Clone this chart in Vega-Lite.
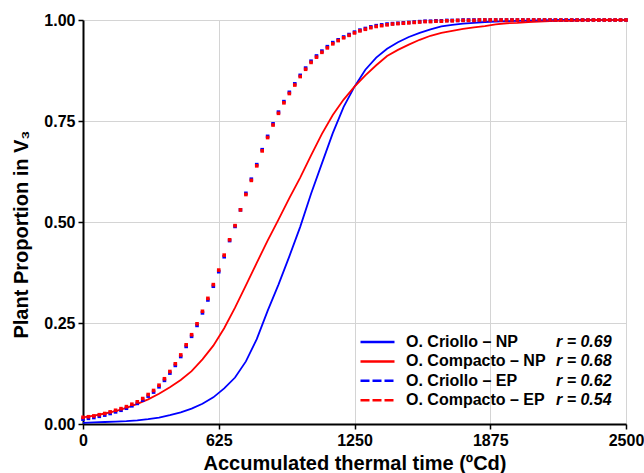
{
  "$schema": "https://vega.github.io/schema/vega-lite/v6.json",
  "width": 543,
  "height": 404,
  "autosize": {"type": "none"},
  "padding": {"left": 83, "top": 20, "right": 18, "bottom": 49},
  "background": "white",
  "config": {
    "view": {"stroke": null},
    "font": "Liberation Sans",
    "axis": {
      "grid": true,
      "domainColor": "#000000", "domainWidth": 2,
      "tickColor": "#000000", "tickWidth": 1.5, "tickSize": 5,
      "labelFont": "Liberation Sans", "labelFontWeight": "bold", "labelFontSize": 16, "labelColor": "#000000",
      "titleFont": "Liberation Sans", "titleFontWeight": "bold", "titleFontSize": 20, "titleColor": "#000000",
      "gridColor": "#d4d4d4", "gridWidth": 1
    },
    "legend": {
      "labelFont": "Liberation Sans", "labelFontWeight": "bold", "labelFontSize": 16, "labelColor": "#000000",
      "padding": 0, "rowPadding": 1.4
    }
  },
  "datasets": {
    "series": [
      {"s": "CN", "name": "O. Criollo – NP", "r": "r = 0.69"},
      {"s": "KN", "name": "O. Compacto – NP", "r": "r = 0.68"},
      {"s": "CE", "name": "O. Criollo – EP", "r": "r = 0.62"},
      {"s": "KE", "name": "O. Compacto – EP", "r": "r = 0.54"}
    ],
    "curves": [
      {"s":"CN","x":0,"y":0.003},{"s":"CN","x":50,"y":0.004},{"s":"CN","x":100,"y":0.005},{"s":"CN","x":150,"y":0.006},{"s":"CN","x":200,"y":0.007},{"s":"CN","x":250,"y":0.009},{"s":"CN","x":300,"y":0.012},{"s":"CN","x":350,"y":0.016},{"s":"CN","x":400,"y":0.022},{"s":"CN","x":450,"y":0.029},{"s":"CN","x":500,"y":0.038},{"s":"CN","x":550,"y":0.05},{"s":"CN","x":600,"y":0.066},{"s":"CN","x":650,"y":0.088},{"s":"CN","x":700,"y":0.115},{"s":"CN","x":750,"y":0.155},{"s":"CN","x":800,"y":0.21},{"s":"CN","x":850,"y":0.28},{"s":"CN","x":900,"y":0.345},{"s":"CN","x":950,"y":0.415},{"s":"CN","x":1000,"y":0.488},{"s":"CN","x":1050,"y":0.57},{"s":"CN","x":1100,"y":0.645},{"s":"CN","x":1150,"y":0.72},{"s":"CN","x":1200,"y":0.785},{"s":"CN","x":1250,"y":0.835},{"s":"CN","x":1300,"y":0.877},{"s":"CN","x":1350,"y":0.907},{"s":"CN","x":1400,"y":0.929},{"s":"CN","x":1450,"y":0.945},{"s":"CN","x":1500,"y":0.958},{"s":"CN","x":1550,"y":0.968},{"s":"CN","x":1600,"y":0.977},{"s":"CN","x":1650,"y":0.984},{"s":"CN","x":1700,"y":0.988},{"s":"CN","x":1750,"y":0.991},{"s":"CN","x":1800,"y":0.993},{"s":"CN","x":1850,"y":0.995},{"s":"CN","x":1900,"y":0.996},{"s":"CN","x":1950,"y":0.997},{"s":"CN","x":2000,"y":0.998},{"s":"CN","x":2100,"y":0.999},{"s":"CN","x":2200,"y":1.0},{"s":"CN","x":2300,"y":1.0},{"s":"CN","x":2400,"y":1.0},{"s":"CN","x":2500,"y":1.0},
      {"s":"KN","x":0,"y":0.0165},{"s":"KN","x":50,"y":0.021},{"s":"KN","x":100,"y":0.026},{"s":"KN","x":150,"y":0.032},{"s":"KN","x":200,"y":0.04},{"s":"KN","x":250,"y":0.05},{"s":"KN","x":300,"y":0.061},{"s":"KN","x":350,"y":0.075},{"s":"KN","x":400,"y":0.091},{"s":"KN","x":450,"y":0.109},{"s":"KN","x":500,"y":0.131},{"s":"KN","x":550,"y":0.16},{"s":"KN","x":600,"y":0.194},{"s":"KN","x":650,"y":0.237},{"s":"KN","x":700,"y":0.288},{"s":"KN","x":750,"y":0.343},{"s":"KN","x":800,"y":0.399},{"s":"KN","x":850,"y":0.454},{"s":"KN","x":900,"y":0.506},{"s":"KN","x":950,"y":0.559},{"s":"KN","x":1000,"y":0.61},{"s":"KN","x":1050,"y":0.665},{"s":"KN","x":1100,"y":0.718},{"s":"KN","x":1150,"y":0.765},{"s":"KN","x":1200,"y":0.803},{"s":"KN","x":1250,"y":0.835},{"s":"KN","x":1300,"y":0.863},{"s":"KN","x":1350,"y":0.888},{"s":"KN","x":1400,"y":0.911},{"s":"KN","x":1450,"y":0.926},{"s":"KN","x":1500,"y":0.939},{"s":"KN","x":1550,"y":0.951},{"s":"KN","x":1600,"y":0.961},{"s":"KN","x":1650,"y":0.968},{"s":"KN","x":1700,"y":0.973},{"s":"KN","x":1750,"y":0.978},{"s":"KN","x":1800,"y":0.982},{"s":"KN","x":1850,"y":0.985},{"s":"KN","x":1900,"y":0.989},{"s":"KN","x":1950,"y":0.992},{"s":"KN","x":2000,"y":0.993},{"s":"KN","x":2050,"y":0.995},{"s":"KN","x":2100,"y":0.996},{"s":"KN","x":2150,"y":0.997},{"s":"KN","x":2200,"y":0.998},{"s":"KN","x":2250,"y":0.998},{"s":"KN","x":2300,"y":0.999},{"s":"KN","x":2350,"y":1.0},{"s":"KN","x":2400,"y":1.0},{"s":"KN","x":2450,"y":1.0},{"s":"KN","x":2500,"y":1.0},
      {"s":"CE","x":0,"y":0.012},{"s":"CE","x":25,"y":0.014},{"s":"CE","x":50,"y":0.016},{"s":"CE","x":75,"y":0.019},{"s":"CE","x":100,"y":0.022},{"s":"CE","x":125,"y":0.026},{"s":"CE","x":150,"y":0.03},{"s":"CE","x":175,"y":0.034},{"s":"CE","x":200,"y":0.039},{"s":"CE","x":225,"y":0.045},{"s":"CE","x":250,"y":0.051},{"s":"CE","x":275,"y":0.059},{"s":"CE","x":300,"y":0.069},{"s":"CE","x":325,"y":0.079},{"s":"CE","x":350,"y":0.092},{"s":"CE","x":375,"y":0.108},{"s":"CE","x":400,"y":0.126},{"s":"CE","x":425,"y":0.145},{"s":"CE","x":450,"y":0.167},{"s":"CE","x":475,"y":0.192},{"s":"CE","x":500,"y":0.217},{"s":"CE","x":525,"y":0.244},{"s":"CE","x":550,"y":0.275},{"s":"CE","x":575,"y":0.307},{"s":"CE","x":600,"y":0.341},{"s":"CE","x":625,"y":0.377},{"s":"CE","x":650,"y":0.414},{"s":"CE","x":675,"y":0.454},{"s":"CE","x":700,"y":0.489},{"s":"CE","x":725,"y":0.53},{"s":"CE","x":750,"y":0.571},{"s":"CE","x":775,"y":0.606},{"s":"CE","x":800,"y":0.642},{"s":"CE","x":825,"y":0.679},{"s":"CE","x":850,"y":0.712},{"s":"CE","x":875,"y":0.743},{"s":"CE","x":900,"y":0.772},{"s":"CE","x":925,"y":0.798},{"s":"CE","x":950,"y":0.821},{"s":"CE","x":975,"y":0.842},{"s":"CE","x":1000,"y":0.863},{"s":"CE","x":1025,"y":0.881},{"s":"CE","x":1050,"y":0.898},{"s":"CE","x":1075,"y":0.911},{"s":"CE","x":1100,"y":0.923},{"s":"CE","x":1125,"y":0.934},{"s":"CE","x":1150,"y":0.944},{"s":"CE","x":1175,"y":0.951},{"s":"CE","x":1200,"y":0.958},{"s":"CE","x":1225,"y":0.964},{"s":"CE","x":1250,"y":0.97},{"s":"CE","x":1275,"y":0.975},{"s":"CE","x":1300,"y":0.979},{"s":"CE","x":1325,"y":0.983},{"s":"CE","x":1350,"y":0.986},{"s":"CE","x":1375,"y":0.988},{"s":"CE","x":1400,"y":0.99},{"s":"CE","x":1425,"y":0.991},{"s":"CE","x":1450,"y":0.992},{"s":"CE","x":1475,"y":0.993},{"s":"CE","x":1500,"y":0.994},{"s":"CE","x":1525,"y":0.995},{"s":"CE","x":1550,"y":0.996},{"s":"CE","x":1575,"y":0.997},{"s":"CE","x":1600,"y":0.997},{"s":"CE","x":1625,"y":0.998},{"s":"CE","x":1650,"y":0.998},{"s":"CE","x":1675,"y":0.999},{"s":"CE","x":1700,"y":0.999},{"s":"CE","x":1725,"y":0.999},{"s":"CE","x":1750,"y":1.0},{"s":"CE","x":1775,"y":1.0},{"s":"CE","x":1800,"y":1.0},{"s":"CE","x":1825,"y":1.0},{"s":"CE","x":1850,"y":1.0},{"s":"CE","x":1875,"y":1.0},{"s":"CE","x":1900,"y":1.0},{"s":"CE","x":1925,"y":1.0},{"s":"CE","x":1950,"y":1.0},{"s":"CE","x":1975,"y":1.0},{"s":"CE","x":2000,"y":1.0},{"s":"CE","x":2025,"y":1.0},{"s":"CE","x":2050,"y":1.0},{"s":"CE","x":2075,"y":1.0},{"s":"CE","x":2100,"y":1.0},{"s":"CE","x":2125,"y":1.0},{"s":"CE","x":2150,"y":1.0},{"s":"CE","x":2175,"y":1.0},{"s":"CE","x":2200,"y":1.0},{"s":"CE","x":2225,"y":1.0},{"s":"CE","x":2250,"y":1.0},{"s":"CE","x":2275,"y":1.0},{"s":"CE","x":2300,"y":1.0},{"s":"CE","x":2325,"y":1.0},{"s":"CE","x":2350,"y":1.0},{"s":"CE","x":2375,"y":1.0},{"s":"CE","x":2400,"y":1.0},{"s":"CE","x":2425,"y":1.0},{"s":"CE","x":2450,"y":1.0},{"s":"CE","x":2475,"y":1.0},{"s":"CE","x":2500,"y":1.0},
      {"s":"KE","x":0,"y":0.0165},{"s":"KE","x":25,"y":0.018},{"s":"KE","x":50,"y":0.02},{"s":"KE","x":75,"y":0.023},{"s":"KE","x":100,"y":0.026},{"s":"KE","x":125,"y":0.03},{"s":"KE","x":150,"y":0.034},{"s":"KE","x":175,"y":0.038},{"s":"KE","x":200,"y":0.043},{"s":"KE","x":225,"y":0.049},{"s":"KE","x":250,"y":0.055},{"s":"KE","x":275,"y":0.063},{"s":"KE","x":300,"y":0.073},{"s":"KE","x":325,"y":0.083},{"s":"KE","x":350,"y":0.096},{"s":"KE","x":375,"y":0.112},{"s":"KE","x":400,"y":0.13},{"s":"KE","x":425,"y":0.149},{"s":"KE","x":450,"y":0.171},{"s":"KE","x":475,"y":0.196},{"s":"KE","x":500,"y":0.221},{"s":"KE","x":525,"y":0.248},{"s":"KE","x":550,"y":0.279},{"s":"KE","x":575,"y":0.311},{"s":"KE","x":600,"y":0.345},{"s":"KE","x":625,"y":0.381},{"s":"KE","x":650,"y":0.418},{"s":"KE","x":675,"y":0.456},{"s":"KE","x":700,"y":0.491},{"s":"KE","x":725,"y":0.53},{"s":"KE","x":750,"y":0.568},{"s":"KE","x":775,"y":0.603},{"s":"KE","x":800,"y":0.639},{"s":"KE","x":825,"y":0.676},{"s":"KE","x":850,"y":0.709},{"s":"KE","x":875,"y":0.74},{"s":"KE","x":900,"y":0.769},{"s":"KE","x":925,"y":0.795},{"s":"KE","x":950,"y":0.818},{"s":"KE","x":975,"y":0.839},{"s":"KE","x":1000,"y":0.86},{"s":"KE","x":1025,"y":0.878},{"s":"KE","x":1050,"y":0.895},{"s":"KE","x":1075,"y":0.908},{"s":"KE","x":1100,"y":0.92},{"s":"KE","x":1125,"y":0.931},{"s":"KE","x":1150,"y":0.941},{"s":"KE","x":1175,"y":0.949},{"s":"KE","x":1200,"y":0.956},{"s":"KE","x":1225,"y":0.962},{"s":"KE","x":1250,"y":0.968},{"s":"KE","x":1275,"y":0.973},{"s":"KE","x":1300,"y":0.977},{"s":"KE","x":1325,"y":0.981},{"s":"KE","x":1350,"y":0.984},{"s":"KE","x":1375,"y":0.986},{"s":"KE","x":1400,"y":0.988},{"s":"KE","x":1425,"y":0.99},{"s":"KE","x":1450,"y":0.991},{"s":"KE","x":1475,"y":0.992},{"s":"KE","x":1500,"y":0.993},{"s":"KE","x":1525,"y":0.994},{"s":"KE","x":1550,"y":0.995},{"s":"KE","x":1575,"y":0.996},{"s":"KE","x":1600,"y":0.996},{"s":"KE","x":1625,"y":0.997},{"s":"KE","x":1650,"y":0.997},{"s":"KE","x":1675,"y":0.998},{"s":"KE","x":1700,"y":0.998},{"s":"KE","x":1725,"y":0.999},{"s":"KE","x":1750,"y":0.999},{"s":"KE","x":1775,"y":0.999},{"s":"KE","x":1800,"y":0.999},{"s":"KE","x":1825,"y":1.0},{"s":"KE","x":1850,"y":1.0},{"s":"KE","x":1875,"y":1.0},{"s":"KE","x":1900,"y":1.0},{"s":"KE","x":1925,"y":1.0},{"s":"KE","x":1950,"y":1.0},{"s":"KE","x":1975,"y":1.0},{"s":"KE","x":2000,"y":1.0},{"s":"KE","x":2025,"y":1.0},{"s":"KE","x":2050,"y":1.0},{"s":"KE","x":2075,"y":1.0},{"s":"KE","x":2100,"y":1.0},{"s":"KE","x":2125,"y":1.0},{"s":"KE","x":2150,"y":1.0},{"s":"KE","x":2175,"y":1.0},{"s":"KE","x":2200,"y":1.0},{"s":"KE","x":2225,"y":1.0},{"s":"KE","x":2250,"y":1.0},{"s":"KE","x":2275,"y":1.0},{"s":"KE","x":2300,"y":1.0},{"s":"KE","x":2325,"y":1.0},{"s":"KE","x":2350,"y":1.0},{"s":"KE","x":2375,"y":1.0},{"s":"KE","x":2400,"y":1.0},{"s":"KE","x":2425,"y":1.0},{"s":"KE","x":2450,"y":1.0},{"s":"KE","x":2475,"y":1.0},{"s":"KE","x":2500,"y":1.0}
    ]
  },
  "data": {"name": "curves"},
  "transform": [
    {"lookup": "s", "from": {"data": {"name": "series"}, "key": "s", "fields": ["name", "r"]}}
  ],
  "encoding": {
    "x": {
      "field": "x", "type": "quantitative",
      "scale": {"domain": [0, 2500], "nice": false, "zero": false},
      "axis": {"grid": true, "values": [0, 625, 1250, 1875, 2500], "format": "d", "title": "Accumulated thermal time (ºCd)", "labelPadding": 3, "titlePadding": 5, "labelFlush": false, "labelOverlap": false}
    },
    "y": {
      "field": "y", "type": "quantitative",
      "scale": {"domain": [0, 1], "nice": false},
      "axis": {"grid": true, "values": [0, 0.25, 0.5, 0.75, 1], "format": ".2f", "title": "Plant Proportion in V₃", "titleY": 214, "labelPadding": 3, "titlePadding": 12, "labelFlush": false, "labelOverlap": false}
    },
    "color": {
      "field": "name", "type": "nominal",
      "scale": {
        "domain": ["O. Criollo – NP", "O. Compacto – NP", "O. Criollo – EP", "O. Compacto – EP"],
        "range": ["#0000ff", "#ff0000", "#0000ff", "#ff0000"]
      },
      "legend": {
        "title": null, "orient": "none", "legendX": 276, "legendY": 312,
        "symbolType": "M-1,0H3", "symbolSize": 289, "symbolStrokeWidth": 2.5, "labelOffset": 27,
        "encode": {
          "symbols": {
            "update": {
              "stroke": {"scale": "color", "field": "value"},
              "fill": {"value": "transparent"},
              "opacity": {"value": 1},
              "strokeDash": {"signal": "indexof(datum.value, 'EP') >= 0 ? [9, 3] : [1, 0]"}
            }
          }
        }
      }
    }
  },
  "layer": [
    {
      "transform": [{"filter": "datum.s == 'CN' || datum.s == 'KN'"}],
      "mark": {"type": "line", "strokeWidth": 1.8},
      "encoding": {
        "opacity": {
          "field": "r", "type": "ordinal",
          "scale": {"domain": ["r = 0.69", "r = 0.68", "r = 0.62", "r = 0.54"], "range": [1, 1, 1, 1]},
          "legend": {
            "title": null, "orient": "none", "legendX": 426, "legendY": 312,
            "symbolType": "M-1,0H3", "symbolSize": 289, "symbolStrokeWidth": 2.5, "labelOffset": 27, "labelFontStyle": "italic",
            "encode": {
              "symbols": {
                "update": {
                  "stroke": {"value": "transparent"},
                  "fill": {"value": "transparent"},
                  "opacity": {"value": 0}
                }
              }
            }
          }
        }
      }
    },
    {
      "transform": [{"filter": "datum.s == 'CE' || datum.s == 'KE'"}],
      "mark": {"type": "point", "shape": "square", "filled": true, "size": 13, "opacity": 1}
    }
  ]
}
